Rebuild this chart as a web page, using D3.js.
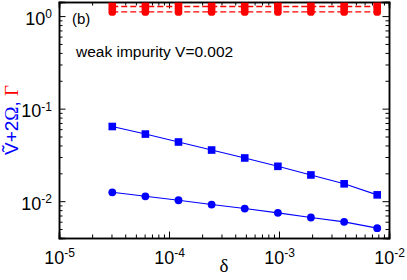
<!DOCTYPE html>
<html>
<head>
<meta charset="utf-8">
<script src="https://cdn.jsdelivr.net/npm/d3@7"></script>
<style>
  body { margin: 0; background: white; }
  svg { display: block; font-family: "Liberation Sans", Arial, sans-serif; }
</style>
</head>
<body>
<div id="chart"></div>
<script>
// delta values (x) and the four series
var delta = [3.05e-5, 6.1e-5, 1.22e-4, 2.44e-4, 4.88e-4, 9.77e-4, 1.95e-3, 3.91e-3, 7.81e-3];
var blueSquares = [0.0641, 0.0531, 0.0436, 0.0357, 0.0293, 0.0238, 0.0192, 0.0154, 0.0117];
var blueCircles = [0.01247, 0.01129, 0.01023, 0.00919, 0.00832, 0.00748, 0.00666, 0.00598, 0.00511];
var redSquares = [1.27, 1.27, 1.27, 1.27, 1.27, 1.27, 1.27, 1.27, 1.27];
var redCircles = [1.11, 1.11, 1.11, 1.11, 1.11, 1.11, 1.11, 1.11, 1.11];
var xMajor = [1e-5, 1e-4, 1e-3, 1e-2];
var yMajor = [1e-2, 1e-1, 1];

var W = 407, H = 280;
var margin = {top: 2, right: 18, bottom: 42, left: 59},
    width = W - margin.left - margin.right,
    height = H - margin.top - margin.bottom;

var svg = d3.select("#chart")
  .append("svg")
    .attr("width", W)
    .attr("height", H)
  .append("g")
    .attr("transform", "translate(" + margin.left + "," + margin.top + ")");

var x = d3.scaleLog().domain([1e-5, 1e-2]).range([0, width]);
var y = d3.scaleLog().domain([0.004, 1.42]).range([height, 0]);

// minor ticks: 2..9 times each decade
function minors(scale) {
  var d = scale.domain(), out = [];
  for (var e = -6; e <= 1; e++) {
    for (var m = 2; m <= 9; m++) {
      var v = m * Math.pow(10, e);
      if (v > d[0] && v < d[1]) out.push(v);
    }
  }
  return out;
}

function supLabel(sel, v) {
  sel.text(null);
  sel.append("tspan").text("10");
  sel.append("tspan")
    .attr("dy", "-0.55em")
    .attr("font-size", "12px")
    .text(Math.round(Math.log10(v)));
}

// bottom axis
svg.append("g").attr("transform", "translate(0," + height + ")")
  .call(d3.axisBottom(x).tickValues(minors(x)).tickSize(-3.5).tickFormat(""));
var gx = svg.append("g").attr("transform", "translate(0," + height + ")")
  .call(d3.axisBottom(x).tickValues(xMajor).tickSize(-6.5).tickPadding(13));
gx.selectAll(".tick text")
  .attr("font-size", "18px")
  .attr("fill", "black")
  .each(function(d) { supLabel(d3.select(this), d); });

// top axis
svg.append("g").call(d3.axisTop(x).tickValues(minors(x)).tickSize(-3.5).tickFormat(""));
svg.append("g").call(d3.axisTop(x).tickValues(xMajor).tickSize(-6.5).tickFormat(""));

// left axis
svg.append("g").call(d3.axisLeft(y).tickValues(minors(y)).tickSize(-3.5).tickFormat(""));
var gy = svg.append("g")
  .call(d3.axisLeft(y).tickValues(yMajor).tickSize(-6.5).tickPadding(7));
gy.selectAll(".tick text")
  .attr("font-size", "18px")
  .attr("fill", "black")
  .attr("dy", "0.45em")
  .each(function(d) { supLabel(d3.select(this), d); });

// right axis
svg.append("g").attr("transform", "translate(" + width + ",0)")
  .call(d3.axisRight(y).tickValues(minors(y)).tickSize(-3.5).tickFormat(""));
svg.append("g").attr("transform", "translate(" + width + ",0)")
  .call(d3.axisRight(y).tickValues(yMajor).tickSize(-6.5).tickFormat(""));

svg.selectAll(".domain").attr("stroke", "black").attr("stroke-width", 1.5);
svg.selectAll(".tick line").attr("stroke", "black").attr("stroke-width", 1);

// plot the series
var line = d3.line()
  .x(function(d) { return x(d[0]); })
  .y(function(d) { return y(d[1]); });

function drawSeries(vals, color, shape, dashed) {
  var pts = delta.map(function(d, i) { return [d, vals[i]]; });
  svg.append("path")
    .datum(pts)
    .attr("d", line)
    .attr("fill", "none")
    .attr("stroke", color)
    .attr("stroke-width", dashed ? 1.3 : 1.1)
    .attr("stroke-dasharray", dashed ? "6,3" : null);
  if (shape === "square") {
    svg.selectAll(null).data(pts).enter().append("rect")
      .attr("x", function(d) { return x(d[0]) - 3.8; })
      .attr("y", function(d) { return y(d[1]) - 3.8; })
      .attr("width", 7.6)
      .attr("height", 7.6)
      .attr("fill", color);
  } else {
    svg.selectAll(null).data(pts).enter().append("circle")
      .attr("cx", function(d) { return x(d[0]); })
      .attr("cy", function(d) { return y(d[1]); })
      .attr("r", 3.9)
      .attr("fill", color);
  }
}

drawSeries(blueSquares, "#0000ff", "square", false);
drawSeries(blueCircles, "#0000ff", "circle", false);
drawSeries(redSquares, "#ff0000", "square", true);
drawSeries(redCircles, "#ff0000", "circle", true);

// annotations
svg.append("text")
  .attr("x", 13).attr("y", 22)
  .attr("font-size", "15px")
  .text("(b)");
svg.append("text")
  .attr("x", 17).attr("y", 55)
  .attr("font-size", "15.5px")
  .text("weak impurity V=0.002");

// axis labels
svg.append("text")
  .attr("x", width / 2).attr("y", height + 34)
  .attr("text-anchor", "middle")
  .attr("font-family", "'Liberation Serif', serif")
  .attr("font-size", "19px")
  .text("\u03b4");

var yl = svg.append("text")
  .attr("transform", "translate(" + (-41) + "," + (height / 2) + ") rotate(-90)")
  .attr("text-anchor", "middle")
  .attr("font-size", "19px");
yl.append("tspan").attr("fill", "#0000ff").text("\u1E7C+2");
yl.append("tspan").attr("fill", "#0000ff").attr("font-family", "'Liberation Serif', serif").text("\u03a9");
yl.append("tspan").attr("fill", "#0000ff").text(", ");
yl.append("tspan").attr("fill", "#ff0000").attr("font-family", "'Liberation Serif', serif").text("\u0393");
</script>
</body>
</html>
